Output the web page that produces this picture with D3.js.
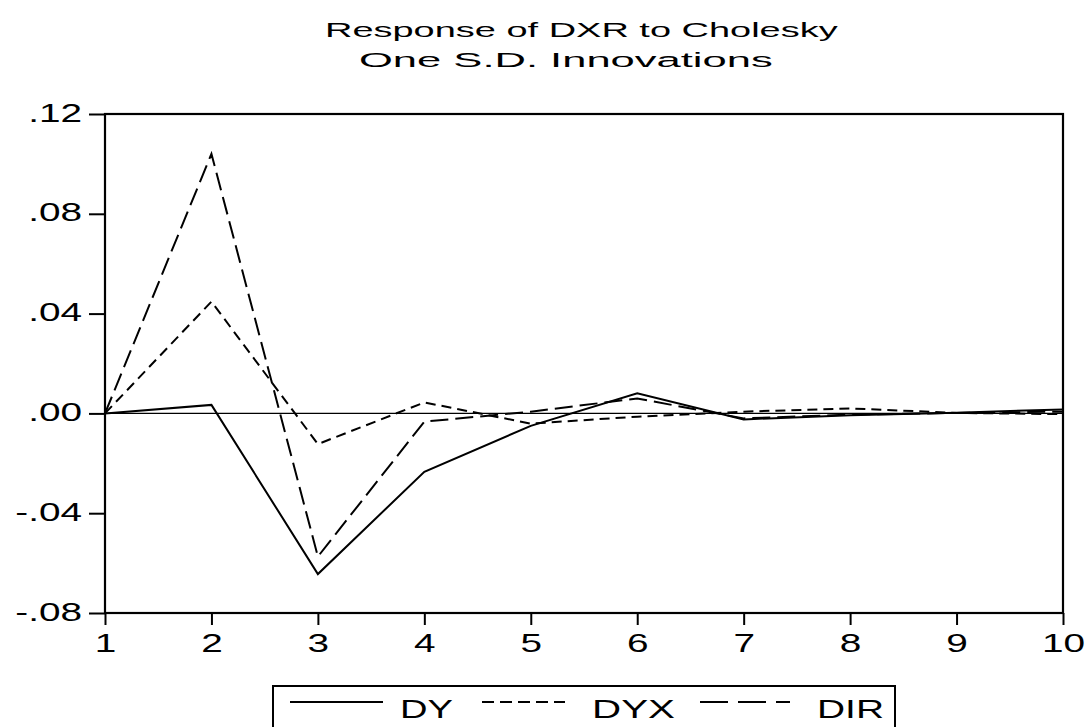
<!DOCTYPE html>
<html>
<head>
<meta charset="utf-8">
<script src="https://cdn.jsdelivr.net/npm/d3@7"></script>
<style>
  html, body { margin: 0; padding: 0; background: #fff; }
  svg { display: block; font-family: "Liberation Sans", Arial, sans-serif; }
</style>
</head>
<body>
<svg id="chart" width="1090" height="727"></svg>
<script>
// ---- data ----
const periods = [1, 2, 3, 4, 5, 6, 7, 8, 9, 10];
const seriesNames = ["DY", "DYX", "DIR"];
const dyValues  = [0, 0.0034, -0.0644, -0.0234, -0.0050, 0.0081, -0.0024, -0.0007, 0.0003, 0.0016];
const dyxValues = [0, 0.0448, -0.0123, 0.0044, -0.0041, -0.0013, 0.0007, 0.0020, 0.0002, -0.0003];
const dirValues = [0, 0.1040, -0.0574, -0.0033, 0.0007, 0.0060, -0.0020, -0.0005, 0.0002, 0.0007];
const yTicks = [-0.08, -0.04, 0, 0.04, 0.08, 0.12];
const yTickLabels = ["-.08", "-.04", ".00", ".04", ".08", ".12"];
const titleLines = ["Response of DXR to Cholesky", "One S.D. Innovations"];

(function () {
const svg = d3.select("#chart");
const pLeft = 105, pRight = 1063, pTop = 114, pBottom = 613;
const x = d3.scaleLinear().domain([1, 10]).range([pLeft, pRight]);
const y = d3.scaleLinear().domain([-0.08, 0.12]).range([pBottom, pTop]);

const styles = {
  DY:  { dash: null,   legendDash: null },
  DYX: { dash: "10,6", legendDash: "12,6" },
  DIR: { dash: "18,7", legendDash: "28,10" }
};
const seriesData = { DY: dyValues, DYX: dyxValues, DIR: dirValues };

// stretched text helper: places text starting at (x0, y0) with width w
function stretchedText(str, x0, y0, w, size) {
  const g = svg.append("g");
  const t = g.append("text").attr("x", 0).attr("y", 0)
    .attr("font-size", size).attr("fill", "#000").text(str);
  const nat = t.node().getComputedTextLength();
  g.attr("transform", `translate(${x0},${y0}) scale(${w / nat},1)`);
  return g;
}

// title
const titleSpec = [
  { x: 325, y: 37, w: 513 },
  { x: 359, y: 67, w: 414 }
];
titleLines.forEach((t, i) => {
  stretchedText(t, titleSpec[i].x, titleSpec[i].y, titleSpec[i].w, 20.5);
});

// zero line
svg.append("line")
  .attr("x1", pLeft).attr("x2", pRight)
  .attr("y1", y(0)).attr("y2", y(0))
  .attr("stroke", "#000").attr("stroke-width", 1.3);

// series lines
const line = d3.line().x((d, i) => x(periods[i])).y(d => y(d));
seriesNames.forEach(name => {
  svg.append("path")
    .datum(seriesData[name])
    .attr("d", line)
    .attr("fill", "none")
    .attr("stroke", "#000")
    .attr("stroke-width", 2)
    .attr("stroke-dasharray", styles[name].dash);
});

// frame
svg.append("rect")
  .attr("x", pLeft).attr("y", pTop)
  .attr("width", pRight - pLeft).attr("height", pBottom - pTop)
  .attr("fill", "none").attr("stroke", "#000").attr("stroke-width", 2.2);

// y axis
const sx = 1.55;
const yAxis = d3.axisLeft(y).tickValues(yTicks)
  .tickFormat((d, i) => yTickLabels[i]).tickSize(16).tickSizeOuter(0);
const gy = svg.append("g").attr("transform", `translate(${pLeft},0)`).call(yAxis);
gy.select(".domain").remove();
gy.selectAll(".tick line").attr("stroke", "#000").attr("stroke-width", 2);
gy.selectAll(".tick text")
  .attr("font-size", 25).attr("font-family", "Liberation Sans, Arial, sans-serif")
  .attr("fill", "#000")
  .attr("x", -23 / sx).attr("dy", null).attr("y", 7)
  .attr("transform", `scale(${sx},1)`);

// x axis
const xAxis = d3.axisBottom(x).tickValues(periods).tickFormat(d3.format("d"))
  .tickSize(12).tickSizeOuter(0);
const gx = svg.append("g").attr("transform", `translate(0,${pBottom})`).call(xAxis);
gx.select(".domain").remove();
gx.selectAll(".tick line").attr("stroke", "#000").attr("stroke-width", 2);
gx.selectAll(".tick text")
  .attr("font-size", 25).attr("font-family", "Liberation Sans, Arial, sans-serif")
  .attr("fill", "#000")
  .attr("dy", null).attr("y", 39)
  .attr("transform", `scale(1.55,1)`);

// legend
svg.append("rect")
  .attr("x", 273).attr("y", 686).attr("width", 622).attr("height", 60)
  .attr("fill", "#fff").attr("stroke", "#000").attr("stroke-width", 2);
const legendSpec = {
  DY:  { x1: 290, x2: 383, tx: 400, tw: 53 },
  DYX: { x1: 482, x2: 565, tx: 592, tw: 83 },
  DIR: { x1: 700, x2: 790, tx: 817, tw: 67 }
};
seriesNames.forEach(name => {
  const s = legendSpec[name];
  svg.append("line")
    .attr("x1", s.x1).attr("x2", s.x2).attr("y1", 702).attr("y2", 702)
    .attr("stroke", "#000").attr("stroke-width", 2)
    .attr("stroke-dasharray", styles[name].legendDash);
  stretchedText(name, s.tx, 718, s.tw, 26);
});
})();
</script>
</body>
</html>
